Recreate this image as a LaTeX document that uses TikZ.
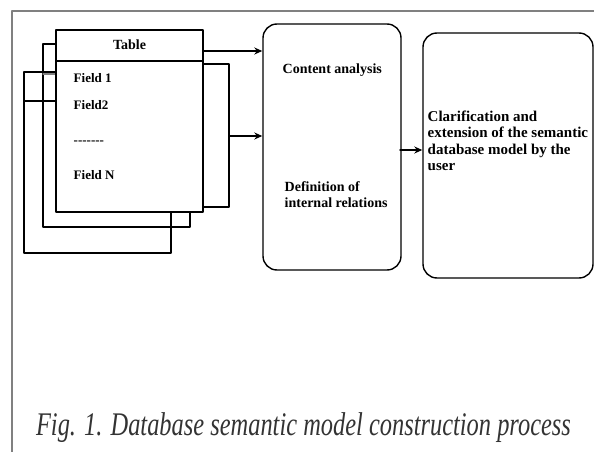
\documentclass[tikz,border=0pt]{standalone}
\usepackage{fontspec}
\setmainfont{Liberation Serif}
\usetikzlibrary{arrows.meta}
\begin{document}
\begin{tikzpicture}[x=1pt,y=-1pt,line join=round,line cap=round,>={Stealth[length=8pt,width=7pt]},line width=1.4pt,
	box/.style={draw,rounded corners=14pt,minimum width=#1},
	lab/.style={right,font=\bfseries\fontsize{14}{16}\selectfont,align=left,inner sep=0pt}]
	\useasboundingbox (0,0) rectangle (594,452);
	\draw[gray,line width=1.2pt] (12,452)--(12,11)--(594,11);
	% back sheets of the table
	\draw (56,44)--(43,44)--(43,227)--(190,227)--(190,207);
	\draw (56,72)--(24,72)--(24,253)--(171,253)--(171,207);
	\draw (24,101)--(56,101);
	\draw[gray] (43,74)--(56,74);
	\draw (203,64)--(229,64)--(229,207)--(203,207);
	% front sheet
	\node[draw,fill=white,minimum width=147pt,minimum height=182pt,inner sep=0pt] (tab) at (129.5,121) {};
	\draw (56,61)--(203,61);
	\node[font=\bfseries\fontsize{14}{16}\selectfont] (tname) at (129.5,45) {Table};
	\foreach \y/\f [count=\i] in {78/Field 1,105/Field2,143/{-}{-}{-}{-}{-}{-}{-},175/Field N}
	\node[lab,font=\bfseries\fontsize{13}{15}\selectfont] (f\i) at (73,\y) {\f};
	% process boxes
	\node[box=138pt,minimum height=246pt] (ana) at (332,147) {};
	\node[box=170pt,minimum height=245pt] (ext) at (508,155.5) {};
	\node[lab] (cont) at (282,70) {Content analysis};
	\node[lab] (defn) at (284,195) {Definition of\\internal relations};
	\node[lab,font=\bfseries\fontsize{15}{16.5}\selectfont] (clar) at (427,141) {Clarification and\\extension of the semantic\\database model by the\\user};
	% arrows
	\coordinate (t1) at (203,51);
	\coordinate (t2) at (229,136);
	\coordinate (t3) at (400,150);
	\draw[->] (t1)--(t1 -| ana.west);
	\draw[->] (t2)--(t2 -| ana.west);
	\draw[->] (t3)--(t3 -| ext.west);
	\node[anchor=base,xscale=0.74,font=\itshape\fontsize{33}{36}\selectfont,text=black!80] (cap) at (303.5,435) {Fig. 1. Database semantic model construction process};
\end{tikzpicture}
\end{document}
